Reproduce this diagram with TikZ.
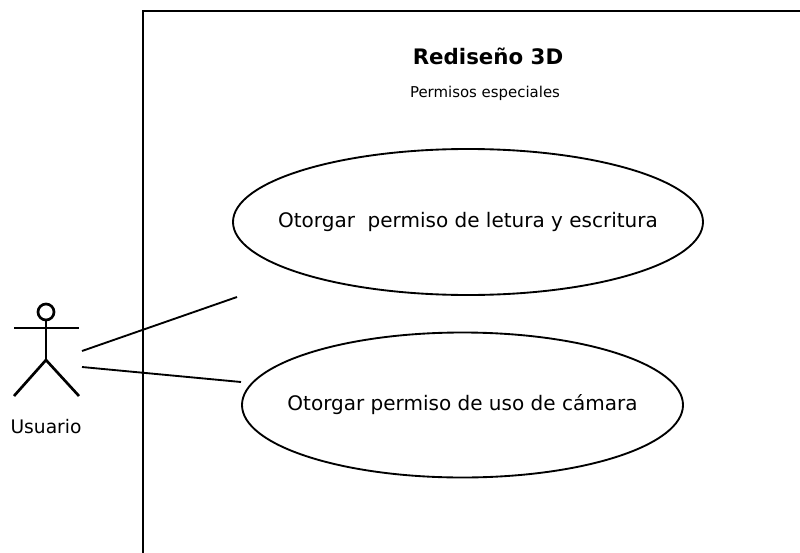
\documentclass[tikz,border=0pt]{standalone}
\usepackage{fontspec}
\setmainfont{DejaVu Sans}
\usetikzlibrary{shapes, positioning}

\begin{document}
\begin{tikzpicture}[x=0.75pt, y=-0.75pt, line width=1.4pt,
		caso/.style={ellipse, draw, inner sep=0pt, font=\fontsize{15}{18}\selectfont}]
		\useasboundingbox (0,0) rectangle (800,553);
		\clip (0,0) rectangle (800,553);
		\draw (143,11) rectangle (830,590);
		\node[anchor=base, font=\bfseries\fontsize{16}{19}\selectfont] (titulo) at (488,64) {Rediseño 3D};
		\node[anchor=base, font=\fontsize{11.2}{13}\selectfont] (sub) at (485,97) {Permisos especiales};
		\node[caso, minimum width=352.5pt, minimum height=109.5pt] (lectura) at (468,222) {\makebox[0pt]{Otorgar\ \ permiso de letura y escritura}};
		\node[caso, minimum width=330.75pt, minimum height=108.75pt] (camara) at (462.5,405) {\makebox[0pt]{Otorgar permiso de uso de cámara}};
		\coordinate (actor) at (46,312);
		\draw[line width=2pt] (actor) circle (8);
		\draw[line width=2pt] (14,328) -- (79,328);
		\draw[line width=2pt] (46,320) -- (46,360);
		\draw[line width=2pt] (14,396) -- (46,360) -- (79,396);
		\node[font=\fontsize{14}{17}\selectfont] (usuario) at (46,427) {Usuario};
		\coordinate (a1) at (82,351);
		\coordinate (a2) at (82,367);
		\coordinate (e1) at (237,297);
		\coordinate (e2) at (241,382);
		\foreach \from/\to in {a1/e1,a2/e2}
			\draw (\from) -- (\to);
	\end{tikzpicture}
\end{document}
